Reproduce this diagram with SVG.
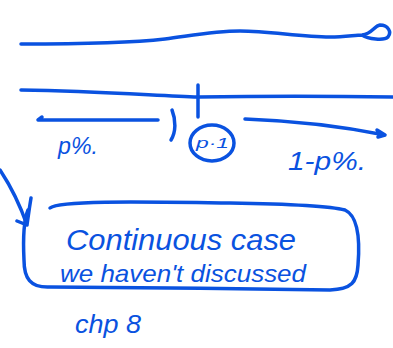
<svg xmlns="http://www.w3.org/2000/svg" width="393" height="348" viewBox="0 0 393 348">
<style>
.s{fill:none;stroke:#0a52e0;stroke-width:3.5;stroke-linecap:round;stroke-linejoin:round}
.t{fill:#0a52e0;font-family:"Liberation Sans",sans-serif;font-style:italic}
</style>
<rect width="393" height="348" fill="#fff"/>
<g id="connectors">
<path class="s" d="M21,44 C70,44 130,43 165,39 C195,35 215,31 240,31 C270,31 300,37 330,37 C345,37 355,35 362,35 C372,34 374,26 380,25 C388,25 392,32 388,37 C384,41 368,39 362,35"/>
<path class="s" d="M21,90 C100,91 160,96 198,97 C260,96 330,96 393,97"/>
<path class="s" d="M198,85 L198,117"/>
<path class="s" d="M38,120 L158,120 M38,120 L42,117"/>
<path class="s" d="M172,110 C176,120 176,132 171,140"/>
<path class="s" d="M245,119 C300,121 350,128 385,135 M377,130 L385,135 L378,137"/>
<path class="s" d="M0,170 C10,185 20,205 27,225 M17,221 L27,225 M31,198 C29,210 28,218 27,225"/>
</g>
<g id="circle">
<ellipse class="s" cx="212" cy="143" rx="22" ry="18"/>
<text class="t" x="196" y="148" font-size="15" textLength="33" lengthAdjust="spacingAndGlyphs">p·1</text>
</g>
<g id="label-left">
<text class="t" x="58" y="154" font-size="24" textLength="40" lengthAdjust="spacingAndGlyphs">p%.</text>
</g>
<g id="label-right">
<text class="t" x="288" y="170" font-size="26" textLength="78" lengthAdjust="spacingAndGlyphs">1-p%.</text>
</g>
<g id="box">
<path class="s" d="M50,208 C60,200 150,202 230,203 C290,204 330,206 345,210 C358,216 360,240 358,265 C357,282 352,289 330,290 C250,289 120,287 50,287 C30,288 24,278 24,260 C23,240 23,222 28,210"/>
<text class="t" x="66" y="250" font-size="30" textLength="230" lengthAdjust="spacingAndGlyphs">Continuous case</text>
<text class="t" x="60" y="282" font-size="24" textLength="246" lengthAdjust="spacingAndGlyphs">we haven't discussed</text>
</g>
<g id="chp8">
<text class="t" x="75" y="333" font-size="26" textLength="66" lengthAdjust="spacingAndGlyphs">chp 8</text>
</g>
</svg>
